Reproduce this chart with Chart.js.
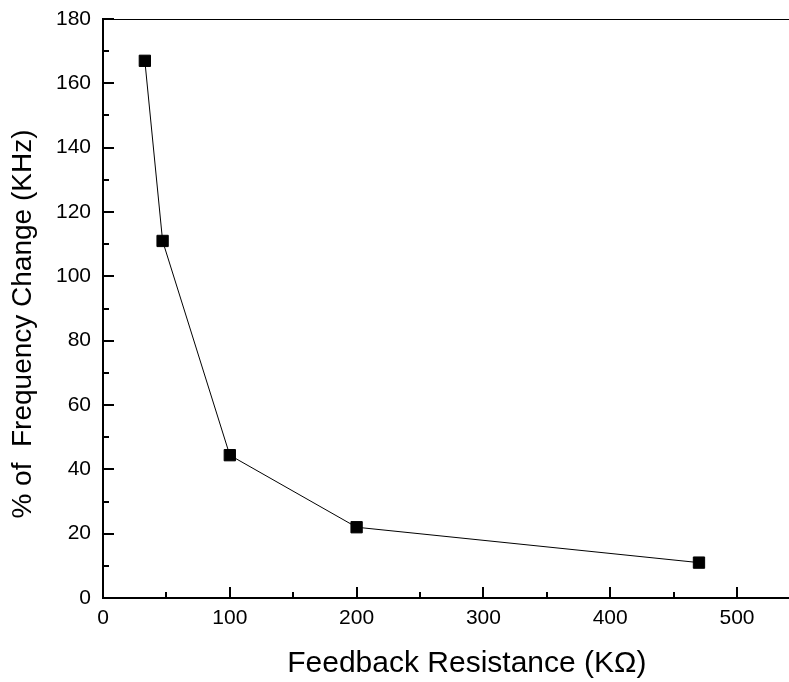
<!DOCTYPE html>
<html>
<head>
<meta charset="utf-8">
<script src="https://cdn.jsdelivr.net/npm/chart.js@4/dist/chart.umd.min.js"></script>
<style>
  html, body { margin: 0; padding: 0; background: #fff; }
  #wrap { width: 789px; height: 682px; }
</style>
</head>
<body>
<div id="wrap"><canvas id="freqChart" width="789" height="682"></canvas></div>
<script>
// feedback resistance (KOhm) vs % of frequency change
const resistance = [33, 47, 100, 200, 470];
const freqChange = [167, 111, 44.4, 22, 11];
const xTicks = [0, 100, 200, 300, 400, 500];
const yTicks = [0, 20, 40, 60, 80, 100, 120, 140, 160, 180];

const FONT = 'Arial, "Liberation Sans", sans-serif';

// Origin-style ticks pointing into the plot, plus the thin top frame line
const insideTicks = {
    id: 'insideTicks',
    afterDraw(chart) {
        const { ctx, chartArea, scales } = chart;
        const xs = scales.x, ys = scales.y;
        ctx.save();
        ctx.strokeStyle = '#000';

        ctx.lineWidth = 1;
        ctx.beginPath();
        ctx.moveTo(chartArea.left, chartArea.top + 0.5);
        ctx.lineTo(chartArea.right, chartArea.top + 0.5);
        ctx.stroke();

        ctx.lineWidth = 2;
        for (let v = 0; v <= xs.max; v += 50) {
            const px = Math.round(xs.getPixelForValue(v));
            const len = v % 100 === 0 ? 11 : 6;
            ctx.beginPath();
            ctx.moveTo(px, chartArea.bottom);
            ctx.lineTo(px, chartArea.bottom - len);
            ctx.stroke();
        }
        for (let v = 0; v <= ys.max; v += 10) {
            const py = Math.round(ys.getPixelForValue(v));
            const len = v % 20 === 0 ? 11 : 6;
            ctx.beginPath();
            ctx.moveTo(chartArea.left, py);
            ctx.lineTo(chartArea.left + len, py);
            ctx.stroke();
        }
        ctx.restore();
    }
};

new Chart(document.getElementById('freqChart').getContext('2d'), {
    type: 'scatter',
    data: {
        datasets: [{
            data: resistance.map((r, i) => ({ x: r, y: freqChange[i] })),
            showLine: true,
            borderColor: '#000',
            borderWidth: 1,
            backgroundColor: '#000',
            pointStyle: 'rect',
            pointRadius: 8,
            pointBorderWidth: 1,
            pointBorderColor: '#000',
            pointBackgroundColor: '#000'
        }]
    },
    options: {
        responsive: false,
        animation: false,
        layout: { autoPadding: false, padding: { top: 19, right: 0, left: 0, bottom: 0 } },
        plugins: { legend: { display: false }, tooltip: { enabled: false } },
        scales: {
            x: {
                type: 'linear',
                min: 0,
                max: 541,
                afterBuildTicks: s => { s.ticks = xTicks.map(v => ({ value: v })); },
                afterFit: s => { s.height = 84; s.paddingLeft = 0; s.paddingRight = 0; },
                grid: { display: false, drawTicks: false },
                border: { display: true, color: '#000', width: 2 },
                ticks: { color: '#000', font: { family: FONT, size: 21 }, padding: 8 },
                title: {
                    display: true,
                    // leading spaces nudge the centred title right, as in the original
                    text: '     Feedback Resistance (KΩ)',
                    color: '#000',
                    font: { family: FONT, size: 30 },
                    padding: { top: 10, bottom: 0 }
                }
            },
            y: {
                type: 'linear',
                min: 0,
                max: 180,
                afterBuildTicks: s => { s.ticks = yTicks.map(v => ({ value: v })); },
                afterFit: s => { s.width = 103; s.paddingTop = 0; s.paddingBottom = 0; },
                grid: { display: false, drawTicks: false },
                border: { display: true, color: '#000', width: 2 },
                ticks: { color: '#000', font: { family: FONT, size: 21 }, padding: 12 },
                title: {
                    display: true,
                    text: '% of  Frequency Change (KHz)    ',
                    color: '#000',
                    font: { family: FONT, size: 28 },
                    padding: { top: 6, bottom: 4 }
                }
            }
        }
    },
    plugins: [insideTicks]
});
</script>
</body>
</html>
